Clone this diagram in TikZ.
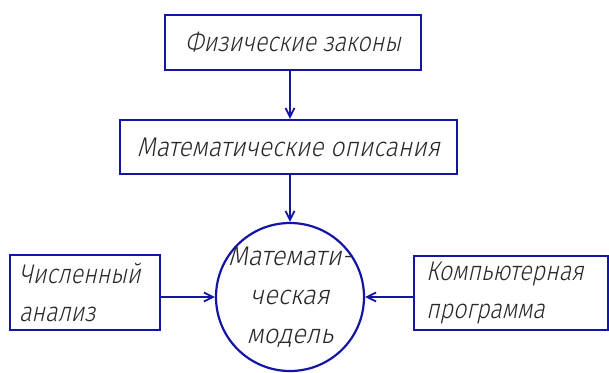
\documentclass[tikz,border=0pt]{standalone}
\usepackage{fontspec}
\newfontfamily\gost[FakeSlant=0.22,FakeStretch=0.86]{Fira Sans Light}
\newfontfamily\gostmid[FakeSlant=0.22,FakeStretch=0.91]{Fira Sans Light}
\newfontfamily\gostwide[FakeSlant=0.22,FakeStretch=0.95]{Fira Sans Light}
\usetikzlibrary{arrows.meta}
\definecolor{lineblue}{RGB}{20,20,165}
\definecolor{txtgray}{RGB}{40,40,40}
\tikzset{
  blockbox/.style={draw=lineblue, line width=2.2pt, rectangle, inner sep=0pt, font=\gost\fontsize{27}{38}\selectfont, text=txtgray},
  leftbox/.style={blockbox, align=left, text width=#1, inner xsep=9pt},
  link/.style={draw=lineblue, line width=2.2pt, -{Straight Barb[length=9pt,width=9pt,line width=1.8pt]}},
}
\begin{document}
\begin{tikzpicture}[x=1pt,y=-1pt]
\useasboundingbox (0,0) rectangle (609,372);
\node[blockbox, minimum width=256pt, minimum height=55pt] (phys) at (293,42.5) {Физические законы};
\node[blockbox, minimum width=337pt, minimum height=54pt, font=\gostmid\fontsize{27}{38}\selectfont] (desc) at (288.5,147) {Математические описания};
\node[draw=lineblue, line width=2.2pt, circle, minimum size=148pt, inner sep=0pt] (model) at (290,297) {};
\node[align=center, inner sep=0pt, font=\gostwide\fontsize{27}{39}\selectfont, text=txtgray] (modeltext) at (model.center) {Математи-\\ческая\\модель};
\node[leftbox=132pt, minimum width=148pt, minimum height=75pt] (num) at (85,292.5) {Численный\\анализ};
\node[leftbox=170pt, minimum width=194pt, minimum height=74pt, inner xsep=12pt] (prog) at (511,293) {Компьютерная\\программа};
\draw[link] (phys.south -| model.north) -- (desc.north -| model.north);
\draw[link] (desc.south -| model.north) -- (model.north);
\draw[link] (num.east |- model.west) -- (model.west);
\draw[link] (prog.west |- model.east) -- (model.east);
\end{tikzpicture}
\end{document}
